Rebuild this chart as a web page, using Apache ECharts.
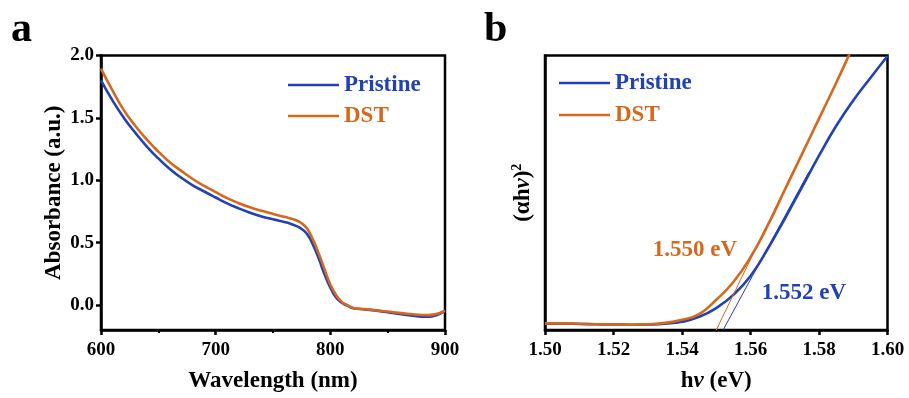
<!DOCTYPE html>
<html>
<head>
<meta charset="utf-8">
<script src="https://cdn.jsdelivr.net/npm/echarts@6/dist/echarts.min.js"></script>
<style>
  html, body { margin: 0; padding: 0; background: #fff; }
  #chart { width: 909px; height: 398px; }
</style>
</head>
<body>
<div id="chart"></div>
<script>
// ---- (a) UV-vis absorbance ----
const wavelengths = [600, 610, 620, 630, 640, 650, 660, 670, 680, 690, 700, 710, 720, 730, 740, 750,
  760, 765, 770, 775, 780, 785, 790, 795, 800, 805, 810, 815, 820, 830, 840, 850, 860, 870, 880, 885, 890, 895, 900];
const absPristine = [1.80, 1.64, 1.50, 1.38, 1.27, 1.175, 1.09, 1.02, 0.96, 0.91, 0.862, 0.815, 0.775, 0.74, 0.71, 0.687,
  0.665, 0.652, 0.635, 0.61, 0.565, 0.48, 0.37, 0.245, 0.14, 0.06, 0.018, -0.005, -0.025, -0.035, -0.045, -0.058, -0.072, -0.083, -0.093, -0.094, -0.088, -0.072, -0.045];
const absDST = [1.895, 1.72, 1.56, 1.435, 1.325, 1.23, 1.145, 1.075, 1.01, 0.955, 0.905, 0.857, 0.817, 0.783, 0.755, 0.73,
  0.707, 0.694, 0.68, 0.655, 0.61, 0.52, 0.41, 0.285, 0.165, 0.08, 0.025, -0.002, -0.023, -0.033, -0.043, -0.052, -0.063, -0.072, -0.080, -0.081, -0.077, -0.065, -0.045];
const wavelengthTicks = [600, 700, 800, 900];
const absorbanceTicks = [0.0, 0.5, 1.0, 1.5, 2.0];

// ---- (b) Tauc plot, (αhν)² in arbitrary units ----
const photonEnergy = [1.500, 1.505, 1.510, 1.515, 1.520, 1.525, 1.530, 1.535, 1.540, 1.545, 1.550,
  1.555, 1.560, 1.565, 1.570, 1.575, 1.580, 1.585, 1.590, 1.595, 1.600];
const taucPristine = [2.3, 2.3, 2.2, 2.1, 2.0, 1.9, 2.0, 2.3, 3.0, 4.8, 8.0, 12.8, 19.7, 29.5, 40.5, 52.0, 63.5, 74.3, 83.6, 91.8, 99.8];
const taucDST = [2.4, 2.4, 2.3, 2.1, 2.0, 1.9, 2.1, 2.6, 3.7, 5.8, 11.0, 17.5, 26.5, 38.0, 51.0, 64.0, 77.0, 90.0, 103.5, 117.0, 130.0];
const energyTicks = [1.50, 1.52, 1.54, 1.56, 1.58, 1.60];
// band gaps (x-intercepts of the linear fits) and the upper end of each fit line
const gapPristine = 1.552;
const gapDST = 1.550;
const fitEndPristine = [1.577, 57.5];
const fitEndDST = [1.5725, 58];

const BLUE = '#2241b5';
const ORANGE = '#d5681c';
const FONT = '"Liberation Serif", "Times New Roman", serif';

const pairs = (xs, ys) => xs.map((x, i) => [x, ys[i]]);

const tickLabelStyle = { fontFamily: FONT, fontWeight: 'bold', fontSize: 19, color: '#000' };
const nameStyle = { fontFamily: FONT, fontWeight: 'bold', fontSize: 23, color: '#000' };
const axisLineStyle = { show: true, onZero: false, lineStyle: { color: '#000', width: 2.5 } };

const chart = echarts.init(document.getElementById('chart'), null, { renderer: 'canvas' });

const curve = (name, xi, data, color, z) => ({
  name, type: 'line', xAxisIndex: xi, yAxisIndex: xi, data,
  smooth: 0.5, showSymbol: false, color,
  lineStyle: { width: 2.6, color }, clip: true, z
});

const option = {
  animation: false,
  backgroundColor: '#fff',
  grid: [
    { left: 101, right: 464, top: 55.5, bottom: 66.5, show: true, borderColor: '#000', borderWidth: 2.5, backgroundColor: 'transparent' },
    { left: 545, right: 21.5, top: 55.5, bottom: 67, show: true, borderColor: '#000', borderWidth: 2.5, backgroundColor: 'transparent' }
  ],
  xAxis: [
    {
      gridIndex: 0, type: 'value', min: 600, max: 900, interval: 100,
      name: 'Wavelength (nm)', nameLocation: 'middle', nameGap: 40, nameTextStyle: nameStyle,
      axisLine: axisLineStyle,
      axisTick: { show: true, inside: false, length: 5, lineStyle: { width: 2.5, color: '#000' }, customValues: wavelengthTicks },
      minorTick: { show: true, splitNumber: 2, length: 3, lineStyle: { width: 2, color: '#000' } },
      axisLabel: { margin: 11, ...tickLabelStyle, customValues: wavelengthTicks, formatter: v => String(v) },
      splitLine: { show: false }, minorSplitLine: { show: false }
    },
    {
      gridIndex: 1, type: 'value', min: 1.50, max: 1.60, interval: 0.02,
      name: 'h{it|ν} (eV)', nameLocation: 'middle', nameGap: 40,
      nameTextStyle: { ...nameStyle, rich: { it: { ...nameStyle, fontStyle: 'italic' } } },
      axisLine: axisLineStyle,
      axisTick: { show: true, inside: false, length: 5, lineStyle: { width: 2.5, color: '#000' }, customValues: energyTicks },
      axisLabel: { margin: 11, ...tickLabelStyle, customValues: energyTicks, formatter: v => v.toFixed(2) },
      splitLine: { show: false }
    }
  ],
  yAxis: [
    {
      gridIndex: 0, type: 'value', min: -0.2, max: 2.0,
      name: 'Absorbance (a.u.)', nameLocation: 'middle', nameGap: 35, nameTextStyle: nameStyle,
      axisLine: axisLineStyle,
      axisTick: { show: true, inside: false, length: 5, lineStyle: { width: 2.5, color: '#000' }, customValues: absorbanceTicks },
      axisLabel: { margin: 7, ...tickLabelStyle, customValues: absorbanceTicks, formatter: v => v.toFixed(1) },
      splitLine: { show: false }
    },
    {
      gridIndex: 1, type: 'value', min: 0, max: 100,
      name: '(αh{it|ν}){sup|2}', nameLocation: 'middle', nameGap: 9,
      nameTextStyle: {
        ...nameStyle,
        rich: {
          it: { ...nameStyle, fontStyle: 'italic' },
          sup: { ...nameStyle, fontSize: 14, verticalAlign: 'top', padding: [0, 0, 12, 0] }
        }
      },
      axisLine: axisLineStyle,
      axisTick: { show: false },
      axisLabel: { show: false },
      splitLine: { show: false }
    }
  ],
  legend: [
    {
      left: 288, top: 73, orient: 'vertical', itemGap: 7, padding: 0,
      icon: 'rect', itemWidth: 51, itemHeight: 2.5,
      textStyle: { fontFamily: FONT, fontWeight: 'bold', fontSize: 23, lineHeight: 24 },
      data: [
        { name: 'Pristine', textStyle: { color: BLUE } },
        { name: 'DST', textStyle: { color: ORANGE } }
      ],
      selectedMode: false
    },
    {
      left: 559, top: 71, orient: 'vertical', itemGap: 8, padding: 0,
      icon: 'rect', itemWidth: 51, itemHeight: 2.5,
      textStyle: { fontFamily: FONT, fontWeight: 'bold', fontSize: 23, lineHeight: 24 },
      data: [
        { name: 'Pristine', textStyle: { color: BLUE } },
        { name: 'DST', textStyle: { color: ORANGE } }
      ],
      selectedMode: false
    }
  ],
  series: [
    curve('DST', 0, pairs(wavelengths, absDST), ORANGE, 3),
    curve('Pristine', 0, pairs(wavelengths, absPristine), BLUE, 2),
    curve('Pristine', 1, pairs(photonEnergy, taucPristine), BLUE, 2),
    curve('DST', 1, pairs(photonEnergy, taucDST), ORANGE, 3),
    {
      name: 'fit-Pristine', type: 'line', xAxisIndex: 1, yAxisIndex: 1,
      data: [[gapPristine, 0], fitEndPristine],
      showSymbol: false, lineStyle: { width: 1, color: BLUE }, z: 4, silent: true
    },
    {
      name: 'fit-DST', type: 'line', xAxisIndex: 1, yAxisIndex: 1,
      data: [[gapDST, 0], fitEndDST],
      showSymbol: false, lineStyle: { width: 1, color: ORANGE }, z: 4, silent: true
    },
    {
      name: 'gap-labels', type: 'scatter', xAxisIndex: 1, yAxisIndex: 1, symbolSize: 0, silent: true,
      itemStyle: { opacity: 1 },
      data: [
        { value: [1.5438, 29], gap: gapDST, color: ORANGE },
        { value: [1.5756, 13.4], gap: gapPristine, color: BLUE }
      ].map(d => ({
        value: d.value,
        label: {
          show: true, position: 'inside', formatter: d.gap.toFixed(3) + ' eV', opacity: 1,
          fontFamily: FONT, fontWeight: 'bold', fontSize: 23, color: d.color
        }
      }))
    }
  ],
  graphic: [
    { type: 'text', left: 11, top: 9, style: { text: 'a', font: 'bold 42px ' + FONT, fill: '#000' } },
    { type: 'text', left: 484, top: 9, style: { text: 'b', font: 'bold 42px ' + FONT, fill: '#000' } }
  ]
};

chart.setOption(option);
</script>
</body>
</html>
